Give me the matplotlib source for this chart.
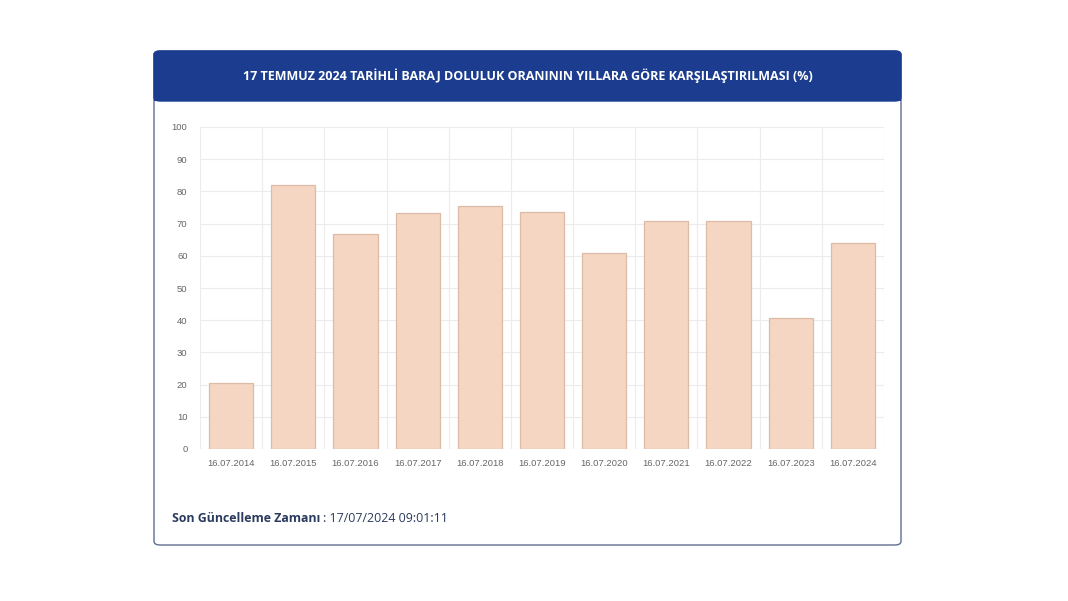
import numpy as np
import matplotlib.pyplot as plt
from matplotlib.patches import FancyBboxPatch, Rectangle

# Baraj doluluk oranları (%)
tarihler = ['16.07.2014', '16.07.2015', '16.07.2016', '16.07.2017', '16.07.2018',
            '16.07.2019', '16.07.2020', '16.07.2021', '16.07.2022', '16.07.2023',
            '16.07.2024']
oranlar = [20.5, 82.0, 66.8, 73.3, 75.5, 73.6, 60.9, 70.8, 70.8, 40.7, 64.0]
y_ticks = list(range(0, 101, 10))

navy = '#1c3d8f'
W, H = 1068, 601

fig = plt.figure(figsize=(10.68, 6.01), dpi=100)
fig.patch.set_facecolor('white')

def fx(px):
    return px / W

def fy(py):
    return 1 - py / H

# cadre de la carte
card = FancyBboxPatch((fx(154), fy(545)), fx(901) - fx(154), fy(51) - fy(545),
                      boxstyle='round,pad=0,rounding_size=0.006',
                      transform=fig.transFigure, facecolor='white',
                      edgecolor='#5f6f8f', linewidth=1.0, zorder=-3)
fig.patches.append(card)

# bandeau du titre
head = FancyBboxPatch((fx(154), fy(101)), fx(901) - fx(154), fy(51) - fy(101),
                      boxstyle='round,pad=0,rounding_size=0.006',
                      transform=fig.transFigure, facecolor=navy,
                      edgecolor=navy, linewidth=1.0, zorder=-2)
fig.patches.append(head)
fig.patches.append(Rectangle((fx(154), fy(101)), fx(901) - fx(154), fy(90) - fy(101),
                             transform=fig.transFigure, facecolor=navy,
                             edgecolor='none', zorder=-2))

fig.text(fx(528), fy(76),
         '17 TEMMUZ 2024 TARİHLİ BARAJ DOLULUK ORANININ YILLARA GÖRE KARŞILAŞTIRILMASI (%)',
         color='white', fontsize=9.0, fontweight='bold', ha='center', va='center',
         family='Open Sans', zorder=2)

ax = fig.add_axes([fx(200), fy(449), fx(884) - fx(200), fy(127) - fy(449)])
x = np.arange(len(tarihler))
ax.bar(x, oranlar, width=0.71, color='#f5d6c3', edgecolor='#ddbba6',
       linewidth=0.9, zorder=3)

ax.set_xlim(-0.5, len(tarihler) - 0.5)
ax.set_ylim(0, 100)
ax.set_yticks(y_ticks)
ax.set_xticks(x)
ax.set_xticklabels(tarihler)
ax.tick_params(axis='both', labelsize=6.8, colors='#666666', length=0, pad=9)
ax.tick_params(axis='x', pad=7)
for lab in ax.get_xticklabels() + ax.get_yticklabels():
    lab.set_family('Liberation Sans')
for s in ax.spines.values():
    s.set_visible(False)

# grille
for v in y_ticks:
    ax.axhline(v, color='#ececec', linewidth=0.8, zorder=1)
for b in np.arange(-0.5, len(tarihler), 1.0):
    ax.axvline(b, color='#ececec', linewidth=0.8, zorder=1)
ax.set_facecolor('none')

t1 = fig.text(fx(172), fy(519), 'Son Güncelleme Zamanı', color='#2b3b5e',
              fontsize=8.9, fontweight='bold', ha='left', va='center', family='Open Sans')
fig.canvas.draw()
bb = t1.get_window_extent()
fig.text(bb.x1 / W + 0.002, fy(519), ': 17/07/2024 09:01:11', color='#2b3b5e',
         fontsize=8.9, ha='left', va='center', family='Open Sans')

fig.savefig('out.png', dpi=100)
